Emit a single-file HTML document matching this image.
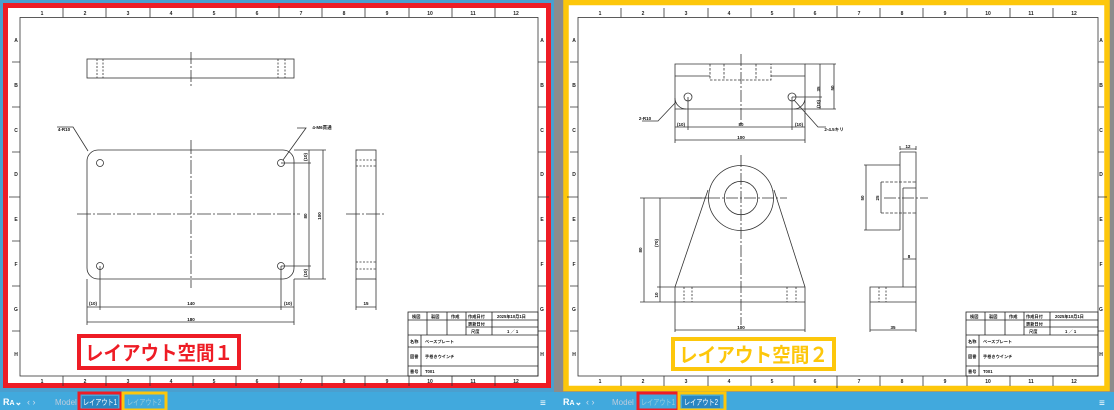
<!DOCTYPE html>
<html><head><meta charset="utf-8"><style>
html,body{margin:0;padding:0;width:1114px;height:410px;overflow:hidden;background:#8c8c8c}
svg{display:block;font-family:"Liberation Sans","Noto Sans CJK JP",sans-serif}
</style></head><body>
<svg width="1114" height="410" viewBox="0 0 1114 410" xmlns="http://www.w3.org/2000/svg">
<rect x="0" y="0" width="554" height="392" fill="#4a9fcf"/>
<rect x="554" y="0" width="9" height="392" fill="#8c8c8c"/>
<rect x="5.5" y="5.5" width="543" height="380" fill="#fff" stroke="#ee1c25" stroke-width="5"/>
<rect x="566" y="2.5" width="541" height="386" fill="#fff" stroke="#fdc70b" stroke-width="5.5"/>

<g stroke="#333" stroke-width="0.8" fill="none">
<rect x="20" y="17.5" width="518" height="358.5"/>
<path d="M63 8V17.5M106 8V17.5M150 8V17.5M193 8V17.5M236 8V17.5M279 6V17.5M322 8V17.5M365 8V17.5M409 8V17.5M452 8V17.5M495 8V17.5
M63 376V386M106 376V386M150 376V386M193 376V386M236 376V386M279 376V388M322 376V386M365 376V386M409 376V386M452 376V386M495 376V386
M12 62H20M12 107H20M12 152H20M9 197H20M12 241H20M12 286H20M12 331H20
M538 62H546M538 107H546M538 152H546M538 197H549M538 241H546M538 286H546M538 331H546"/>
</g>
<g font-size="5" fill="#222" text-anchor="middle" font-weight="bold">
<text x="42" y="15">1</text><text x="85" y="15">2</text><text x="128" y="15">3</text><text x="171" y="15">4</text><text x="214" y="15">5</text><text x="257" y="15">6</text><text x="301" y="15">7</text><text x="344" y="15">8</text><text x="387" y="15">9</text><text x="430" y="15">10</text><text x="473" y="15">11</text><text x="516" y="15">12</text>
<text x="42" y="383">1</text><text x="85" y="383">2</text><text x="128" y="383">3</text><text x="171" y="383">4</text><text x="214" y="383">5</text><text x="257" y="383">6</text><text x="301" y="383">7</text><text x="344" y="383">8</text><text x="387" y="383">9</text><text x="430" y="383">10</text><text x="473" y="383">11</text><text x="516" y="383">12</text>
<text x="16" y="42">A</text><text x="16" y="87">B</text><text x="16" y="132">C</text><text x="16" y="176">D</text><text x="16" y="221">E</text><text x="16" y="266">F</text><text x="16" y="311">G</text><text x="16" y="356">H</text>
<text x="542" y="42">A</text><text x="542" y="87">B</text><text x="542" y="132">C</text><text x="542" y="176">D</text><text x="542" y="221">E</text><text x="542" y="266">F</text><text x="542" y="311">G</text><text x="542" y="356">H</text>
</g>

<g transform="translate(558,0)">
<g stroke="#333" stroke-width="0.8" fill="none">
<rect x="20" y="17.5" width="520" height="358.5"/>
<path d="M63 8V17.5M106 8V17.5M150 8V17.5M193 8V17.5M236 8V17.5M279 6V17.5M322 8V17.5M365 8V17.5M409 8V17.5M452 8V17.5M495 8V17.5
M63 376V386M106 376V386M150 376V386M193 376V386M236 376V386M279 376V388M322 376V386M365 376V386M409 376V386M452 376V386M495 376V386
M12 62H20M12 107H20M12 152H20M9 197H20M12 241H20M12 286H20M12 331H20
M540 62H546M540 107H546M540 152H546M540 197H549M540 241H546M540 286H546M540 331H546"/>
</g>
<g font-size="5" fill="#222" text-anchor="middle" font-weight="bold">
<text x="42" y="15">1</text><text x="85" y="15">2</text><text x="128" y="15">3</text><text x="171" y="15">4</text><text x="214" y="15">5</text><text x="257" y="15">6</text><text x="301" y="15">7</text><text x="344" y="15">8</text><text x="387" y="15">9</text><text x="430" y="15">10</text><text x="473" y="15">11</text><text x="516" y="15">12</text>
<text x="42" y="383">1</text><text x="85" y="383">2</text><text x="128" y="383">3</text><text x="171" y="383">4</text><text x="214" y="383">5</text><text x="257" y="383">6</text><text x="301" y="383">7</text><text x="344" y="383">8</text><text x="387" y="383">9</text><text x="430" y="383">10</text><text x="473" y="383">11</text><text x="516" y="383">12</text>
<text x="16" y="42">A</text><text x="16" y="87">B</text><text x="16" y="132">C</text><text x="16" y="176">D</text><text x="16" y="221">E</text><text x="16" y="266">F</text><text x="16" y="311">G</text><text x="16" y="356">H</text>
<text x="543" y="42">A</text><text x="543" y="87">B</text><text x="543" y="132">C</text><text x="543" y="176">D</text><text x="543" y="221">E</text><text x="543" y="266">F</text><text x="543" y="311">G</text><text x="543" y="356">H</text>
</g>
</g>

<g>
<g stroke="#222" stroke-width="0.8" fill="none">
<rect x="408" y="312" width="130" height="64"/>
<path d="M408 320H538M466 327H538M408 335H538M408 347H538M408 366H538
M427 312V335M447 312V335M466 312V335M492 312V335M421 335V376"/>
</g>
<g font-size="4.2" fill="#111" font-weight="bold">
<text x="412" y="318">検図</text><text x="431" y="318">製図</text><text x="451" y="318">作成</text><text x="468" y="318">作成日付</text><text x="497" y="318">2025年10月1日</text>
<text x="468" y="325.5">更新日付</text><text x="471" y="333">尺度</text><text x="507" y="333">1 ／ 1</text>
<text x="410" y="343">名称</text><text x="425" y="343">ベースプレート</text>
<text x="410" y="358">図番</text><text x="425" y="358">手巻きウインチ</text>
<text x="410" y="373">番号</text><text x="425" y="373">T001</text>
</g>
</g>
<g transform="translate(558,0)">
<g stroke="#222" stroke-width="0.8" fill="none">
<rect x="408" y="312" width="132" height="64"/>
<path d="M408 320H540M466 327H540M408 335H540M408 347H540M408 366H540
M427 312V335M447 312V335M466 312V335M492 312V335M421 335V376"/>
</g>
<g font-size="4.2" fill="#111" font-weight="bold">
<text x="412" y="318">検図</text><text x="431" y="318">製図</text><text x="451" y="318">作成</text><text x="468" y="318">作成日付</text><text x="497" y="318">2025年10月1日</text>
<text x="468" y="325.5">更新日付</text><text x="471" y="333">尺度</text><text x="507" y="333">1 ／ 1</text>
<text x="410" y="343">名称</text><text x="425" y="343">ベースプレート</text>
<text x="410" y="358">図番</text><text x="425" y="358">手巻きウインチ</text>
<text x="410" y="373">番号</text><text x="425" y="373">T001</text>
</g>
</g>

<g stroke="#333" stroke-width="0.8" fill="none">
<rect x="87" y="59" width="207" height="19"/>
<path d="M97 59V78M103 59V78M278 59V78M285 59V78" stroke-dasharray="2,1.5"/>
<path d="M191 52V86" stroke-dasharray="12,2,2,2"/>
<rect x="87" y="150" width="207" height="129" rx="11"/>
<circle cx="100" cy="163" r="3.5"/><circle cx="281" cy="163" r="3.5"/><circle cx="100" cy="266" r="3.5"/><circle cx="281" cy="266" r="3.5"/>
<path d="M191 140V288M77 214H300M346 214H385" stroke-dasharray="14,2,2,2"/>
<rect x="356" y="150" width="20" height="129"/>
<path d="M356 160H376M356 166H376M356 262H376M356 269H376" stroke-dasharray="2,1.5"/>
<path d="M281 163H311M281 266H311M294 150H326M294 279H326M309 163V279M309 150V163M323 150V279"/>
<path d="M100 266V310M281 266V310M87 279V325M294 279V325M87 307H294M87 322H294M356 279V310M376 279V310M356 307H376"/>
<path d="M57 127H73L88 151M297 128H306L283 160"/>
</g>
<g font-size="4.5" fill="#111" text-anchor="middle" font-weight="bold">
<text x="64" y="131">4-R10</text><text x="322" y="129">4-M6貫通</text>
<text x="191" y="305">140</text><text x="191" y="321">180</text><text x="93" y="305">(10)</text><text x="288" y="305">(10)</text>
<text x="366" y="305">15</text>
<text x="307" y="216" transform="rotate(-90 307 216)">80</text>
<text x="321" y="216" transform="rotate(-90 321 216)">100</text>
<text x="307" y="157" transform="rotate(-90 307 157)">(10)</text>
<text x="307" y="273" transform="rotate(-90 307 273)">(10)</text>
</g>

<g stroke="#333" stroke-width="0.8" fill="none">
<path d="M675 64H805V109H675ZM675 76H710M771 76H805"/>
<path d="M710 64V80H771V64M724 64V80M756 64V80" stroke-dasharray="2.5,1.5"/>
<path d="M741 54V125" stroke-dasharray="12,2,2,2"/>
<circle cx="688" cy="97" r="4"/><circle cx="792" cy="97" r="4"/>
<path d="M675 98A11 11 0 0 0 686 109M805 98A11 11 0 0 1 794 109"/>
<path d="M805 64H836M805 109H836M792 97H822M820 64V109M834 64V109M688 97V130M792 97V130M675 109V143M805 109V143M675 127H805M675 140H805"/>
<path d="M642 121H658L676 102M826 127H818L794 100"/>
<circle cx="741" cy="198" r="32.5"/><circle cx="741" cy="198" r="16.7"/>
<path d="M708 190L675 287M774 190L805 287M675 287H805V302H675ZM675 302V332M805 302V332M675 330H805"/>
<path d="M684 287V302M692 287V302M787 287V302M796 287V302" stroke-dasharray="2,1.5"/>
<path d="M741 155V325M690 198H787" stroke-dasharray="12,2,2,2"/>
<path d="M640 198H708M640 302H675M644 198V302M660 198V302M657 287H675"/>
<path d="M900 152H916V287M900 152V230M903 188V287M903 188H916M870 287H916V302H870ZM870 302V332M916 302V332M870 330H916"/>
<path d="M881 182H916M881 213H916" stroke-dasharray="3,1.5"/>
<path d="M879 287V302M886 287V302" stroke-dasharray="2,1.5"/>
<path d="M884 198H928" stroke-dasharray="12,2,2,2"/>
<path d="M864 165H900M864 230H900M866 165V230M881 182V213M903 259H916M900 150V146M916 150V146M900 149H916"/>
</g>
<g font-size="4.5" fill="#111" text-anchor="middle" font-weight="bold">
<text x="645" y="120">2-R10</text><text x="834" y="131">2-4.5キリ</text>
<text x="741" y="126">80</text><text x="681" y="126">(10)</text><text x="799" y="126">(10)</text><text x="741" y="139">100</text>
<text x="820" y="89" transform="rotate(-90 820 89)">35</text>
<text x="834" y="88" transform="rotate(-90 834 88)">50</text>
<text x="820" y="104" transform="rotate(-90 820 104)">(10)</text>
<text x="741" y="329">100</text><text x="893" y="329">35</text><text x="908" y="148">12</text><text x="909" y="258">8</text>
<text x="642" y="250" transform="rotate(-90 642 250)">80</text>
<text x="658" y="243" transform="rotate(-90 658 243)">(70)</text>
<text x="658" y="295" transform="rotate(-90 658 295)">10</text>
<text x="864" y="198" transform="rotate(-90 864 198)">50</text>
<text x="879" y="198" transform="rotate(-90 879 198)">25</text>
</g>

<rect x="79" y="336" width="160" height="32" fill="#fff" stroke="#ee1c25" stroke-width="4"/>
<text x="85" y="360" font-size="20" font-weight="bold" fill="#ee1c25" textLength="148" lengthAdjust="spacingAndGlyphs">レイアウト空間１</text>
<rect x="673" y="339" width="161" height="30" fill="#fff" stroke="#fdc70b" stroke-width="4"/>
<text x="679" y="362" font-size="20" font-weight="bold" fill="#fdc70b" textLength="149" lengthAdjust="spacingAndGlyphs">レイアウト空間２</text>

<rect x="0" y="392" width="1114" height="18" fill="#41a9dd"/>
<g font-size="9" fill="#fff">
<text x="3" y="405" font-weight="bold">R<tspan font-size="7">A</tspan>⌄</text>
<text x="27" y="405" fill="#cde">‹ ›</text>
<text x="55" y="405" fill="#bcd" font-size="8">Model</text>
<rect x="79" y="393" width="42" height="17" fill="none" stroke="#ee1c25" stroke-width="3"/>
<rect x="82" y="396" width="36" height="12" fill="#2a86c2"/>
<text x="83" y="405" font-size="8" textLength="34" lengthAdjust="spacingAndGlyphs">レイアウト1</text>
<rect x="123" y="393" width="43" height="17" fill="none" stroke="#fdc70b" stroke-width="3"/>
<text x="127" y="405" font-size="8" fill="#9cd" textLength="34" lengthAdjust="spacingAndGlyphs">レイアウト2</text>
<text x="540" y="406" font-size="10">≡</text>
<text x="563" y="405" font-weight="bold">R<tspan font-size="7">A</tspan>⌄</text>
<text x="586" y="405" fill="#cde">‹ ›</text>
<text x="612" y="405" fill="#bcd" font-size="8">Model</text>
<rect x="638" y="393" width="40" height="17" fill="none" stroke="#ee1c25" stroke-width="3"/>
<text x="641" y="405" font-size="8" fill="#9cd" textLength="34" lengthAdjust="spacingAndGlyphs">レイアウト1</text>
<rect x="679" y="393" width="46" height="17" fill="none" stroke="#fdc70b" stroke-width="3"/>
<rect x="682" y="396" width="38" height="12" fill="#2a86c2"/>
<text x="684" y="405" font-size="8" textLength="34" lengthAdjust="spacingAndGlyphs">レイアウト2</text>
<text x="1099" y="406" font-size="10">≡</text>
</g>
</svg>
</body></html>
